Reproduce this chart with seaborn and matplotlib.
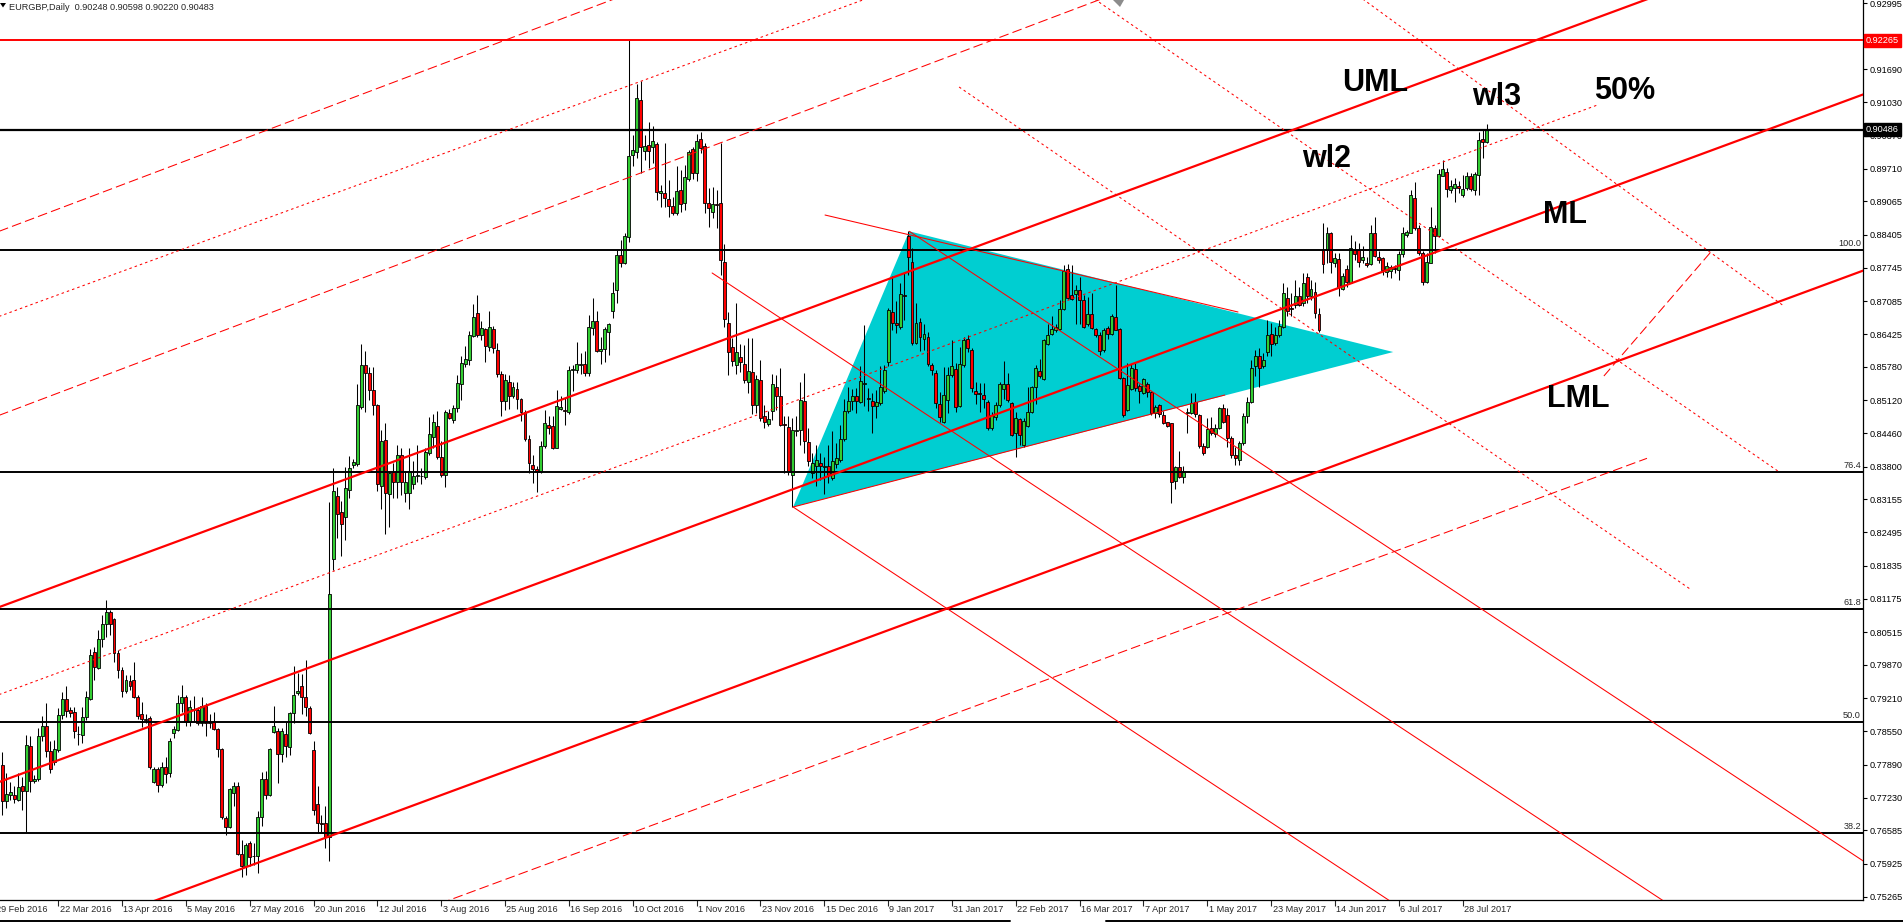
import numpy as np
import pandas as pd
import matplotlib
matplotlib.use("Agg")
import matplotlib.pyplot as plt
import matplotlib.transforms as mtrans
from matplotlib.patches import Polygon
from matplotlib.lines import Line2D
import seaborn as sns

sns.set_style("white")
plt.rcParams['font.family'] = ['Liberation Sans', 'DejaVu Sans']
plt.rcParams['lines.scale_dashes'] = False

# ---------------- daily EURGBP bars (2 Mar 2016 ... 8 Aug 2017) ----------------
opens = [
 .7788, .7716, .7728, .7729, .7718, .7747, .7736, .7826, .7757, .7761,
 .7845, .7866, .7816, .7795, .7818, .7888, .7919, .7898, .7893, .7850,
 .7847, .7883, .7919, .8012, .7981, .8038, .8068, .8091, .8077, .8011,
 .7977, .7934, .7955, .7957, .7924, .7890, .7880, .7881, .7755, .7781,
 .7748, .7784, .7772, .7851, .7858, .7911, .7924, .7874, .7898, .7898,
 .7871, .7906, .7874, .7873, .7859, .7820, .7683, .7665, .7732, .7746,
 .7612, .7588, .7633, .7608, .7607, .7685, .7761, .7729, .7853, .7856,
 .7810, .7850, .7823, .7892, .7931, .7945, .7923, .7901, .7818, .7711,
 .7674, .7673, .7646,
 .8196, .8322, .8290, .8280, .8334, .8383, .8385, .8499, .8581, .8566,
 .8532, .8502, .8342, .8433, .8326, .8369, .8349, .8404, .8328, .8328,
 .8346, .8361, .8361, .8360, .8408, .8438, .8461, .8399, .8364, .8486,
 .8472, .8497, .8544, .8584, .8591, .8639, .8684, .8641, .8653, .8618,
 .8653, .8611, .8563, .8510, .8549, .8520, .8534, .8515, .8488, .8435,
 .8383, .8376, .8369, .8421, .8463, .8461, .8418, .8495, .8493, .8488,
 .8571, .8571, .8581, .8583, .8565, .8655, .8670, .8609, .8614, .8648,
 .8688, .8730, .8799, .8785, .8835, .8999, .9004,
 .9108, .9007, .9018, .9014, .9020, .8922, .8922, .8912, .8897, .8883,
 .8929, .8903, .8950, .9010, .8962, .9030, .9016, .8904, .8885, .8901,
 .8903, .8787,
 .8665, .8617, .8582, .8597, .8584, .8548, .8568, .8502, .8552, .8481,
 .8465, .8490, .8539, .8521, .8465, .8459, .8364, .8451, .8452, .8511,
 .8429, .8367, .8381, .8387, .8379, .8381, .8357, .8386, .8394, .8435,
 .8490, .8511, .8521, .8509, .8545, .8516, .8511, .8500, .8506, .8531,
 .8587, .8686, .8666, .8657, .8721, .8837, .8787, .8626, .8668, .8634,
 .8638, .8582, .8566,
 .8504, .8468, .8512, .8562, .8573, .8501, .8581, .8634, .8611, .8531,
 .8527, .8522, .8509, .8456, .8479, .8503, .8535, .8545, .8507, .8447,
 .8474, .8423, .8461, .8488, .8539, .8570, .8553, .8624, .8643, .8652,
 .8654, .8692, .8773, .8720, .8722, .8731, .8710, .8663, .8682, .8654,
 .8642, .8611, .8656, .8643, .8676, .8654, .8555, .8492, .8535, .8573,
 .8540, .8527, .8545, .8529, .8486, .8502, .8482, .8468, .8466, .8352,
 .8379, .8359, .8487, .8486, .8509, .8482, .8421, .8420, .8456, .8445,
 .8456, .8496,
 .8483, .8437, .8404, .8394, .8427, .8480, .8509, .8579, .8600, .8579,
 .8608, .8643, .8625, .8641, .8658, .8714, .8694, .8701, .8718, .8704,
 .8756, .8718, .8727, .8682, .8810, .8810, .8844, .8784, .8792, .8732,
 .8772, .8745, .8810, .8809, .8791, .8785, .8782, .8843, .8797, .8794,
 .8767, .8769, .8775, .8770, .8802, .8840, .8844, .8914, .8853, .8804,
 .8747, .8785, .8853, .8838, .8957, .8965, .8929, .8932, .8937, .8920,
 .8932, .8957, .8929, .8959, .9030, .9025,
]
highs = [
 .7813, .7772, .7755, .7746, .7772, .7765, .7848, .7845, .7769, .7861,
 .7886, .7911, .7835, .7838, .7901, .7932, .7945, .7904, .7904, .7865,
 .7904, .7934, .8018, .8022, .8056, .8086, .8116, .8096, .8079, .8017,
 .7982, .7967, .7967, .7992, .7927, .7914, .7889, .7886, .7785, .7785,
 .7795, .7805, .7841, .7865, .7927, .7946, .7927, .7917, .7925, .7903,
 .7924, .7911, .7890, .7894, .7861, .7822, .7686, .7742, .7755, .7755,
 .7640, .7633, .7638, .7633, .7696, .7775, .7777, .7822, .7905, .7861,
 .7861, .7874, .7894, .7985, .7970, .7969, .7997, .7906, .7835, .7746,
 .7689, .7706, .8310,
 .8378, .8339, .8312, .8380, .8401, .8396, .8545, .8623, .8609, .8577,
 .8577, .8504, .8453, .8467, .8371, .8388, .8423, .8417, .8371, .8417,
 .8392, .8423, .8378, .8418, .8479, .8485, .8490, .8431, .8492, .8495,
 .8502, .8561, .8599, .8620, .8650, .8702, .8721, .8670, .8655, .8689,
 .8659, .8626, .8570, .8563, .8561, .8549, .8549, .8517, .8493, .8442,
 .8403, .8381, .8431, .8492, .8481, .8480, .8532, .8520, .8517, .8579,
 .8581, .8627, .8606, .8609, .8680, .8715, .8688, .8638, .8658, .8665,
 .8746, .8810, .8830, .8844, .9227, .9038, .9140,
 .9145, .9038, .9063, .9055, .9025, .8939, .9022, .8949, .8916, .8977,
 .8969, .8979, .9008, .9015, .9041, .9045, .9022, .8932, .8934, .8928,
 .9022, .8822,
 .8686, .8635, .8704, .8624, .8622, .8635, .8635, .8562, .8592, .8503,
 .8490, .8564, .8562, .8576, .8481, .8481, .8476, .8481, .8549, .8566,
 .8457, .8407, .8424, .8407, .8400, .8424, .8450, .8427, .8463, .8514,
 .8539, .8534, .8536, .8579, .8661, .8536, .8526, .8532, .8579, .8582,
 .8695, .8759, .8708, .8744, .8764, .8847, .8814, .8704, .8675, .8663,
 .8648, .8585, .8572,
 .8529, .8578, .8578, .8631, .8585, .8618, .8638, .8641, .8615, .8548,
 .8546, .8546, .8512, .8489, .8509, .8548, .8589, .8565, .8509, .8489,
 .8476, .8476, .8539, .8540, .8581, .8593, .8634, .8664, .8679, .8664,
 .8710, .8780, .8783, .8780, .8740, .8757, .8720, .8717, .8724, .8656,
 .8648, .8656, .8659, .8682, .8740, .8656, .8558, .8585, .8583, .8585,
 .8545, .8555, .8548, .8531, .8502, .8505, .8491, .8469, .8467, .8381,
 .8412, .8381, .8496, .8527, .8527, .8484, .8426, .8476, .8479, .8464,
 .8499, .8505,
 .8496, .8440, .8420, .8430, .8486, .8519, .8592, .8612, .8615, .8605,
 .8671, .8666, .8658, .8671, .8745, .8737, .8724, .8751, .8737, .8764,
 .8764, .8751, .8747, .8694, .8863, .8856, .8846, .8803, .8803, .8764,
 .8780, .8840, .8827, .8823, .8817, .8797, .8860, .8876, .8807, .8797,
 .8787, .8780, .8780, .8807, .8856, .8850, .8929, .8944, .8860, .8807,
 .8803, .8895, .8860, .8970, .8989, .8972, .8949, .8952, .8946, .8959,
 .8965, .8962, .8965, .9045, .9048, .9060,
]
lows = [
 .7689, .7703, .7719, .7712, .7716, .7699, .7656, .7734, .7752, .7757,
 .7835, .7805, .7773, .7788, .7813, .7879, .7883, .7884, .7841, .7828,
 .7831, .7878, .7917, .7957, .7978, .8022, .8043, .8046, .7993, .7960,
 .7924, .7931, .7936, .7921, .7879, .7863, .7871, .7780, .7752, .7734,
 .7744, .7752, .7765, .7841, .7855, .7894, .7865, .7865, .7874, .7868,
 .7865, .7846, .7861, .7858, .7805, .7681, .7650, .7663, .7706, .7610,
 .7566, .7570, .7587, .7590, .7574, .7667, .7720, .7727, .7851, .7752,
 .7795, .7805, .7808, .7872, .7927, .7890, .7886, .7849, .7689, .7654,
 .7654, .7623, .7597,
 .8175, .8239, .8202, .8235, .8317, .8378, .8381, .8495, .8488, .8513,
 .8482, .8332, .8296, .8246, .8260, .8317, .8317, .8324, .8310, .8297,
 .8335, .8349, .8346, .8356, .8403, .8417, .8396, .8360, .8339, .8474,
 .8467, .8488, .8513, .8577, .8581, .8638, .8638, .8631, .8588, .8609,
 .8606, .8558, .8481, .8492, .8495, .8517, .8494, .8470, .8431, .8367,
 .8347, .8330, .8367, .8417, .8445, .8416, .8417, .8492, .8463, .8485,
 .8531, .8566, .8563, .8559, .8559, .8641, .8608, .8584, .8588, .8601,
 .8675, .8705, .8777, .8782, .8826, .8976, .8992,
 .8962, .8989, .8972, .8982, .8909, .8896, .8896, .8876, .8879, .8879,
 .8886, .8889, .8946, .8950, .8946, .9002, .8883, .8855, .8873, .8853,
 .8761, .8658,
 .8562, .8579, .8564, .8567, .8546, .8526, .8485, .8486, .8470, .8457,
 .8460, .8473, .8493, .8460, .8367, .8364, .8301, .8440, .8424, .8407,
 .8381, .8357, .8341, .8354, .8326, .8348, .8354, .8377, .8390, .8430,
 .8486, .8493, .8486, .8506, .8500, .8490, .8447, .8476, .8503, .8526,
 .8579, .8652, .8645, .8653, .8671, .8761, .8622, .8624, .8609, .8611,
 .8580, .8562, .8496,
 .8469, .8466, .8486, .8558, .8489, .8499, .8578, .8608, .8529, .8505,
 .8489, .8496, .8453, .8453, .8472, .8499, .8515, .8509, .8441, .8400,
 .8423, .8420, .8459, .8486, .8505, .8555, .8552, .8621, .8641, .8648,
 .8651, .8691, .8712, .8710, .8664, .8664, .8656, .8659, .8654, .8638,
 .8601, .8608, .8634, .8641, .8651, .8553, .8479, .8491, .8532, .8531,
 .8507, .8524, .8519, .8482, .8476, .8479, .8464, .8458, .8308, .8335,
 .8357, .8348, .8447, .8484, .8479, .8418, .8403, .8418, .8443, .8439,
 .8454, .8466,
 .8420, .8397, .8384, .8384, .8423, .8466, .8506, .8559, .8539, .8575,
 .8599, .8599, .8622, .8637, .8655, .8678, .8678, .8694, .8698, .8698,
 .8704, .8711, .8675, .8648, .8764, .8784, .8764, .8777, .8718, .8731,
 .8737, .8744, .8790, .8777, .8784, .8777, .8780, .8797, .8784, .8761,
 .8757, .8754, .8764, .8751, .8797, .8836, .8843, .8850, .8800, .8741,
 .8744, .8784, .8803, .8836, .8956, .8916, .8922, .8906, .8922, .8915,
 .8929, .8926, .8919, .8919, .8992, .9022,
]
closes = [
 .7716, .7730, .7734, .7720, .7744, .7736, .7828, .7757, .7761, .7846,
 .7866, .7815, .7781, .7820, .7888, .7919, .7896, .7892, .7855, .7849,
 .7883, .7923, .8007, .7983, .8038, .8068, .8091, .8067, .8011, .7976,
 .7934, .7957, .7945, .7923, .7886, .7880, .7878, .7785, .7781, .7748,
 .7784, .7771, .7836, .7859, .7911, .7923, .7874, .7903, .7900, .7872,
 .7906, .7871, .7871, .7859, .7820, .7684, .7666, .7740, .7746, .7612,
 .7587, .7629, .7605, .7607, .7685, .7761, .7729, .7820, .7865, .7810,
 .7856, .7826, .7891, .7927, .7935, .7923, .7903, .7851, .7698, .7673,
 .7671, .7646, .8128,
 .8332, .8287, .8266, .8337, .8378, .8389, .8502, .8581, .8565, .8532,
 .8502, .8346, .8431, .8328, .8367, .8349, .8404, .8349, .8349, .8372,
 .8361, .8363, .8362, .8410, .8444, .8468, .8399, .8364, .8488, .8477,
 .8497, .8547, .8586, .8594, .8641, .8677, .8641, .8655, .8620, .8657,
 .8615, .8563, .8510, .8551, .8520, .8538, .8515, .8488, .8435, .8387,
 .8376, .8369, .8421, .8467, .8456, .8418, .8500, .8499, .8490, .8572,
 .8574, .8584, .8583, .8565, .8658, .8670, .8609, .8614, .8653, .8663,
 .8725, .8799, .8784, .8838, .8997, .9008, .9111,
 .9015, .9017, .9007, .9027, .8924, .8927, .8914, .8897, .8884, .8927,
 .8901, .8954, .9005, .8963, .9027, .9012, .8904, .8893, .8901, .8899,
 .8790, .8673,
 .8607, .8589, .8607, .8587, .8551, .8570, .8503, .8554, .8476, .8468,
 .8474, .8544, .8521, .8463, .8463, .8369, .8453, .8453, .8513, .8430,
 .8392, .8387, .8394, .8381, .8382, .8364, .8392, .8397, .8435, .8491,
 .8511, .8521, .8511, .8550, .8547, .8514, .8501, .8509, .8539, .8571,
 .8690, .8665, .8661, .8723, .8719, .8797, .8626, .8665, .8637, .8644,
 .8584, .8571, .8506,
 .8478, .8522, .8562, .8579, .8499, .8583, .8632, .8616, .8537, .8525,
 .8525, .8515, .8456, .8482, .8502, .8544, .8545, .8512, .8443, .8476,
 .8443, .8471, .8488, .8539, .8575, .8560, .8632, .8642, .8654, .8657,
 .8692, .8769, .8715, .8712, .8731, .8710, .8657, .8682, .8656, .8641,
 .8610, .8652, .8643, .8679, .8652, .8555, .8482, .8542, .8575, .8537,
 .8531, .8553, .8529, .8486, .8499, .8484, .8466, .8461, .8350, .8379,
 .8359, .8369, .8489, .8507, .8484, .8421, .8408, .8454, .8446, .8456,
 .8496, .8469,
 .8437, .8404, .8397, .8427, .8480, .8509, .8575, .8599, .8575, .8592,
 .8641, .8623, .8641, .8659, .8725, .8688, .8692, .8718, .8701, .8745,
 .8718, .8732, .8684, .8651, .8782, .8844, .8787, .8794, .8737, .8758,
 .8747, .8813, .8802, .8787, .8797, .8781, .8843, .8798, .8791, .8770,
 .8778, .8777, .8772, .8802, .8843, .8846, .8920, .8853, .8804, .8747,
 .8787, .8855, .8838, .8961, .8970, .8930, .8937, .8941, .8932, .8931,
 .8957, .8930, .8961, .9028, .9025, .9048,
]

# ---------------- axis texts ----------------
date_labels = ["29 Feb 2016", "22 Mar 2016", "13 Apr 2016", "5 May 2016", "27 May 2016",
               "20 Jun 2016", "12 Jul 2016", "3 Aug 2016", "25 Aug 2016", "16 Sep 2016",
               "10 Oct 2016", "1 Nov 2016", "23 Nov 2016", "15 Dec 2016", "9 Jan 2017",
               "31 Jan 2017", "22 Feb 2017", "16 Mar 2017", "7 Apr 2017", "1 May 2017",
               "23 May 2017", "14 Jun 2017", "6 Jul 2017", "28 Jul 2017"]
first_label_bar = -2
label_step = 16
price_ticks = [0.92995, 0.92335, 0.91690, 0.91030, 0.90370, 0.89710, 0.89065, 0.88405,
               0.87745, 0.87085, 0.86425, 0.85780, 0.85120, 0.84460, 0.83800, 0.83155,
               0.82495, 0.81835, 0.81175, 0.80515, 0.79870, 0.79210, 0.78550, 0.77890,
               0.77230, 0.76585, 0.75925, 0.75265]
header = "EURGBP,Daily  0.90248 0.90598 0.90220 0.90483"

# ---------------- drawn objects ----------------
fib_levels = [0.88099, 0.83694, 0.80976, 0.78734, 0.76532]
fib_names = ["100.0", "76.4", "61.8", "50.0", "38.2"]
red_level = 0.92265
last_level = 0.90486

pf_names = ["UML", "ML", "LML"]
pf_start = [0.81037, 0.77567, 0.74072]      # price at bar 0
pf_slope = 0.000292                          # price per bar
mid_start, mid_end_bar = 0.79302, 400        # 50% line

dashed_rays = [(0.88494, 0.000299), (0.84843, 0.000299)]   # (price at bar 0, slope)
dotted_rays = [(0.86805, 0.000290)]
dashed_segments = [((100, 0.7485), (412.2, 0.83966)),
                   ((401.4, 0.85599), (428.2, 0.88059))]
dotted_segments = [((335.0, 0.93423), (446.5, 0.86988)),
                   ((270.0, 0.93283), (445.0, 0.83714)),
                   ((239.8, 0.91333), (423.0, 0.81373))]
thin_segments = [((177.9, 0.87643), (470, 0.72381)),
                 ((198.2, 0.83000), (470, 0.68798)),
                 ((227.3, 0.88470), (470, 0.75789)),
                 ((206.2, 0.88793), (309.7, 0.86869)),
                 ((198.2, 0.83000), (306.4, 0.85222))]
triangle = [(198.2, 0.8300), (227.3, 0.8847), (348.6, 0.86075)]

labels = [("UML", 344.0, 0.91412), ("wl3", 374.4, 0.91135), ("50%", 406.7, 0.91254),
          ("wl2", 332.0, 0.89904), ("ML", 391.7, 0.88793), ("LML", 394.9, 0.85143)]

# ---------------- figure ----------------
W, H = 1903, 923
fig = plt.figure(figsize=(W / 100, H / 100), dpi=100)
fig.patch.set_facecolor("white")
ax = fig.add_axes([0, 23 / H, 1863 / W, 900 / H])
ax.set_facecolor("white")

bars = pd.DataFrame({"k": np.arange(len(closes)), "open": opens, "high": highs,
                     "low": lows, "close": closes})
bars["high"] = bars[["high", "open", "close"]].max(axis=1)
bars["low"] = bars[["low", "open", "close"]].min(axis=1)
up = bars["close"] >= bars["open"]
body_lo = np.minimum(bars["open"], bars["close"])
body_h = (bars["close"] - bars["open"]).abs()

# triangle (background)
ax.add_patch(Polygon(triangle, closed=True, facecolor="#00CED1", edgecolor="none", zorder=1))

# candles
ax.vlines(bars["k"], bars["low"], bars["high"], color="black", lw=0.75, zorder=3)
ax.bar(bars["k"][up], body_h[up], bottom=body_lo[up], width=0.74, color="#32CD32",
       edgecolor="black", linewidth=0.6, zorder=4)
ax.bar(bars["k"][~up], body_h[~up], bottom=body_lo[~up], width=0.74, color="#FF0000",
       edgecolor="black", linewidth=0.6, zorder=4)

# horizontal levels
ax.axhline(red_level, color="#FF0000", lw=1.4, zorder=5)
ax.axhline(last_level, color="black", lw=1.6, zorder=5)
for lv, nm in zip(fib_levels, fib_names):
    ax.axhline(lv, color="black", lw=1.4, zorder=5)
    ax.text(465.8, lv + 0.00035, nm, ha="right", va="bottom", fontsize=6.6, zorder=6)

# pitchfork with seaborn
kL, kR = -2.0, 470.0
pf = pd.DataFrame({
    "line": np.repeat(pf_names, 2),
    "k": [kL, kR] * 3,
    "price": [p0 + pf_slope * kk for p0 in pf_start for kk in (kL, kR)],
})
sns.lineplot(data=pf, x="k", y="price", units="line", estimator=None, color="#FF0000",
             lw=1.6, legend=False, ax=ax, zorder=5)
ax.plot([kL, mid_end_bar], [mid_start + pf_slope * kL, mid_start + pf_slope * mid_end_bar],
        color="#FF0000", lw=0.75, dashes=(1.8, 2.2), zorder=5)

for p0, sl in dashed_rays:
    ax.plot([kL, kR], [p0 + sl * kL, p0 + sl * kR], color="#FF0000", lw=0.75,
            dashes=(7, 3), zorder=5)
for p0, sl in dotted_rays:
    ax.plot([kL, kR], [p0 + sl * kL, p0 + sl * kR], color="#FF0000", lw=0.75,
            dashes=(1.8, 2.2), zorder=5)
for (a, b) in dashed_segments:
    ax.plot([a[0], b[0]], [a[1], b[1]], color="#FF0000", lw=0.75, dashes=(7, 3), zorder=5)
for (a, b) in dotted_segments:
    ax.plot([a[0], b[0]], [a[1], b[1]], color="#FF0000", lw=0.75, dashes=(1.8, 2.2), zorder=5)
for (a, b) in thin_segments:
    ax.plot([a[0], b[0]], [a[1], b[1]], color="#FF0000", lw=0.75, zorder=5)

for txt, kk, pp in labels:
    ax.text(kk, pp, txt, fontsize=22, fontweight="bold", ha="center", va="center",
            color="black", zorder=8)

# axes limits and frame
ax.set_xlim(-0.576, 466.34)
ax.set_ylim(0.75203, 0.93059)
ax.set_xlabel("")
ax.set_ylabel("")
for s in ("top", "left"):
    ax.spines[s].set_visible(False)
for s in ("right", "bottom"):
    ax.spines[s].set_color("black")
    ax.spines[s].set_linewidth(0.9)
ax.grid(False)

ax.yaxis.tick_right()
ax.set_yticks(price_ticks)
ax.set_yticklabels([f"{v:.5f}" for v in price_ticks])
ax.tick_params(axis="y", direction="out", length=3, width=0.8, pad=2, labelsize=6.6,
               colors="black", right=True, left=False)

tick_pos = [first_label_bar + label_step * j for j in range(len(date_labels))]
ax.set_xticks([t for t in tick_pos if t > -0.5])
ax.set_xticklabels([])
ax.tick_params(axis="x", direction="out", length=4, width=0.8, bottom=True)
tb = mtrans.blended_transform_factory(ax.transData, ax.transAxes)
for t, lab in zip(tick_pos, date_labels):
    ax.text(t + 0.35, -0.0105, lab, transform=tb, ha="left", va="center", fontsize=6.6,
            clip_on=False)

# price boxes on the scale
tr = mtrans.blended_transform_factory(ax.transAxes, ax.transData)
ax.text(1.0 + 3 / 1863, red_level, "0.92265", transform=tr, ha="left", va="center",
        fontsize=6.6, color="white", clip_on=False, zorder=10,
        bbox=dict(boxstyle="square,pad=0.22", fc="#FF0000", ec="#FF0000"))
ax.text(1.0 + 3 / 1863, last_level, "0.90486", transform=tr, ha="left", va="center",
        fontsize=6.6, color="white", clip_on=False, zorder=10,
        bbox=dict(boxstyle="square,pad=0.22", fc="black", ec="black"))

# header and chart chrome
fig.text(9 / W, 1 - 7 / H, header, ha="left", va="center", fontsize=6.6)
fig.add_artist(Polygon([(0, 1 - 3 / H), (6 / W, 1 - 3 / H), (3 / W, 1 - 7.5 / H)],
                       closed=True, transform=fig.transFigure, fc="black", ec="none"))
fig.add_artist(Polygon([(1113 / W, 1.0), (1124 / W, 1.0), (1120 / W, 1 - 7 / H)],
                       closed=True, transform=fig.transFigure, fc="#8C8C8C", ec="none"))
fig.add_artist(Line2D([0, 1010 / W], [1 - 921 / H] * 2, transform=fig.transFigure,
                      color="black", lw=1.4))
fig.add_artist(Line2D([1106 / W, 1.0], [1 - 921 / H] * 2, transform=fig.transFigure,
                      color="black", lw=1.4))

fig.savefig("out.png", dpi=100, facecolor="white")
